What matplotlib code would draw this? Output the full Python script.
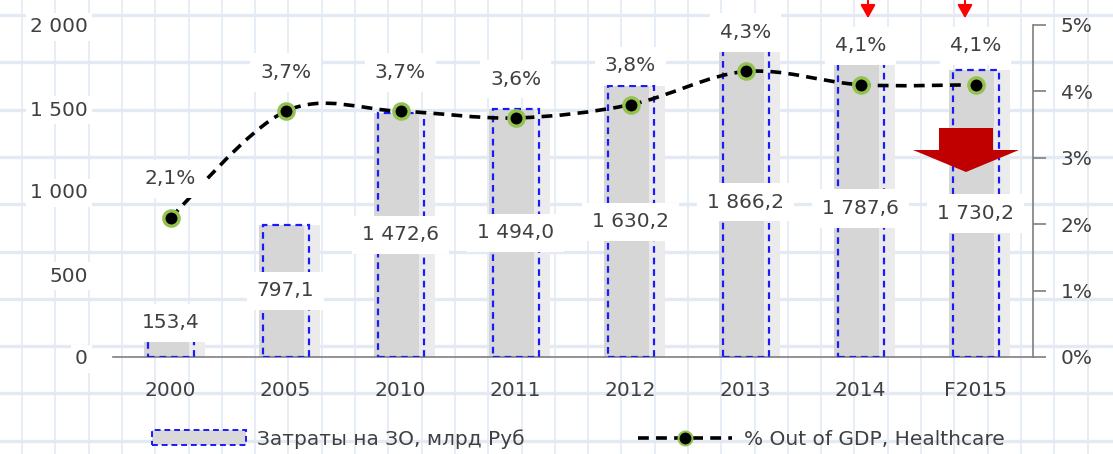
import matplotlib
matplotlib.use("Agg")
import matplotlib.pyplot as plt
import numpy as np
from matplotlib.path import Path
from matplotlib.patches import PathPatch, Patch, Polygon, FancyArrowPatch
from matplotlib.lines import Line2D

plt.rcParams['font.family'] = ['DejaVu Sans']

years = ['2000', '2005', '2010', '2011', '2012', '2013', '2014', 'F2015']
spend = [153.4, 797.1, 1472.6, 1494.0, 1630.2, 1866.2, 1787.6, 1730.2]
gdp_share = [2.1, 3.7, 3.7, 3.6, 3.8, 4.3, 4.1, 4.1]
left_ticks = [0, 500, 1000, 1500, 2000]
left_labels = ['0', '500', '1 000', '1 500', '2 000']
right_ticks = [0, 1, 2, 3, 4, 5]

W, H = 1113, 454
fig = plt.figure(figsize=(W / 100, H / 100), dpi=100)
TXT = '#404040'
FS = 14.5

# graph-paper background
bg = fig.add_axes([0, 0, 1, 1], zorder=-10)
bg.set_xlim(0, W)
bg.set_ylim(H, 0)
bg.axis('off')
for gx in np.arange(22, W, 33.3):
    bg.axvline(gx, color='#e3eaf4', lw=1.2)
for gy in np.arange(15, H, 47.3):
    bg.axhline(gy, color='#e3eaf4', lw=2.4)

ax = fig.add_axes([113 / W, 1 - 357 / H, 920 / W, 332 / H])
ax.patch.set_visible(False)
x = np.arange(len(years))

# bar with soft shadow
ax.bar(x - 0.03, spend, width=0.4, color='#d6d6d6', zorder=2)
ax.bar(x + 0.23, spend, width=0.14, color='#ebebeb', zorder=2)
ax.bar(x, spend, width=0.4, fill=False, edgecolor='#1a1aff',
       linestyle=(0, (3, 2.2)), linewidth=1.6, zorder=3)

ax.set_xlim(-0.5, len(years) - 0.5)
ax.set_ylim(0, 2000)
ax.set_yticks(left_ticks)
ax.set_yticklabels(left_labels)
ax.set_xticks(x)
ax.set_xticklabels(years)
ax.tick_params(axis='y', length=0, pad=18, labelsize=FS, labelcolor=TXT)
ax.tick_params(axis='x', length=0, pad=17, labelsize=FS, labelcolor=TXT)
for lab in ax.get_yticklabels():
    lab.set_bbox(dict(facecolor='white', edgecolor='none', pad=3))
for s in ['left', 'top', 'right']:
    ax.spines[s].set_visible(False)
ax.spines['bottom'].set_color('#7f7f7f')
ax.spines['bottom'].set_linewidth(1.2)

for xi, v in zip(x, spend):
    txt = f'{v:,.1f}'.replace(',', ' ').replace('.', ',')
    ax.text(xi, max(v / 2, 205), txt, ha='center', va='center', fontsize=FS,
            color=TXT, zorder=6,
            bbox=dict(facecolor='white', edgecolor='none', pad=7))

# right axis: share of GDP
ax2 = ax.twinx()
ax2.patch.set_visible(False)
ax2.set_ylim(0, 5)
ax2.set_yticks(right_ticks)
ax2.set_yticklabels([f'{t}%' for t in right_ticks])
ax2.tick_params(axis='y', length=9, width=1.2, color='#7f7f7f', pad=11,
                labelsize=FS, labelcolor=TXT)
for s in ['left', 'top', 'bottom']:
    ax2.spines[s].set_visible(False)
ax2.spines['right'].set_color('#7f7f7f')
ax2.spines['right'].set_linewidth(1.2)

# smoothed line (Catmull-Rom -> Bezier)
pts = np.column_stack([x, gdp_share]).astype(float)
verts = [pts[0]]
codes = [Path.MOVETO]
for i in range(len(pts) - 1):
    p0 = pts[i - 1] if i > 0 else pts[i]
    p1, p2 = pts[i], pts[i + 1]
    p3 = pts[i + 2] if i + 2 < len(pts) else pts[i + 1]
    verts += [p1 + (p2 - p0) / 6, p2 - (p3 - p1) / 6, p2]
    codes += [Path.CURVE4] * 3
ax2.add_patch(PathPatch(Path(verts, codes), fill=False, edgecolor='black',
                        lw=2.6, linestyle=(0, (3, 2)), zorder=4))
ax2.plot(x, gdp_share, linestyle='none', marker='o', markersize=11,
         markerfacecolor='black', markeredgecolor='#93c24f',
         markeredgewidth=2.4, zorder=5)
for xi, p in zip(x, gdp_share):
    ax2.annotate(f'{p:.1f}%'.replace('.', ','), (xi, p), xytext=(0, 28),
                 textcoords='offset points', ha='center', va='center',
                 fontsize=FS, color=TXT, zorder=6,
                 bbox=dict(facecolor='white', edgecolor='none', pad=7))

# legend
handles = [Patch(facecolor='#d9d9d9', edgecolor='#1a1aff',
                 linestyle=(0, (3, 2)), linewidth=1.4),
           Line2D([], [], color='black', lw=2.6, linestyle=(0, (3, 2)),
                  marker='o', markersize=10, markerfacecolor='black',
                  markeredgecolor='#93c24f', markeredgewidth=1.5)]
leg = fig.legend(handles, ['Затраты на ЗО, млрд Руб', '% Out of GDP, Healthcare'],
                 loc='center', bbox_to_anchor=(578 / W, 1 - 439 / H), ncol=2,
                 frameon=False, fontsize=FS, handlelength=4.7,
                 handleheight=0.75, columnspacing=5.6, handletextpad=0.55)
for t in leg.get_texts():
    t.set_color(TXT)

# red annotation arrows
def fp(px, py):
    return (px / W, 1 - py / H)

for ax_x in [868, 965]:
    fig.add_artist(FancyArrowPatch(fp(ax_x, -2), fp(ax_x, 21),
                                   transform=fig.transFigure,
                                   arrowstyle='-|>,head_length=8,head_width=4.5',
                                   color='red', lw=1.5))
block = [fp(939, 128), fp(993, 128), fp(993, 150), fp(1019, 150),
         fp(966, 172), fp(913, 150), fp(939, 150)]
fig.add_artist(Polygon(block, closed=True, transform=fig.transFigure,
                       facecolor='#c00000', edgecolor='none', zorder=7))

fig.savefig('out.png', dpi=100)
